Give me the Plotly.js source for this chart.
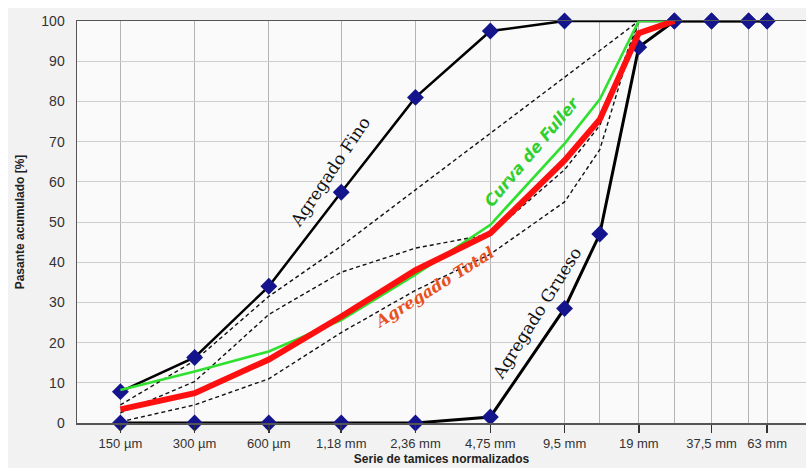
<!DOCTYPE html>
<html>
<head>
<meta charset="utf-8">
<script src="https://cdn.plot.ly/plotly-3.0.1.min.js"></script>
<style>
  html, body { margin:0; padding:0; background:#ffffff; width:806px; height:468px; overflow:hidden; }
  #panel { position:absolute; left:8px; top:8px; width:798px; height:460px; background:#f2f2f2; }
  #chart { position:absolute; left:0; top:0; width:806px; height:468px; }
</style>
</head>
<body>
<div id="panel"></div>
<div id="chart"></div>
<script>
// Sieve sizes (mm)
const tickSizes = [0.15, 0.3, 0.6, 1.18, 2.36, 4.75, 9.5, 19, 37.5, 63];
const tickLabels = ['150 µm', '300 µm', '600 µm', '1,18 mm', '2,36 mm', '4,75 mm', '9,5 mm', '19 mm', '37,5 mm', '63 mm'];
const minorSizes = [13.2, 26.5, 53];

// Agregado Fino
const finoX = [0.15, 0.3, 0.6, 1.18, 2.36, 4.75, 9.5, 26.5, 37.5, 53, 63];
const finoY = [7.8, 16.3, 34, 57.4, 81, 97.5, 100, 100, 100, 100, 100];

// Agregado Grueso
const gruesoX = [0.15, 0.3, 0.6, 1.18, 2.36, 4.75, 9.5, 13.2, 19, 26.5, 37.5, 53, 63];
const gruesoY = [0, 0, 0, 0, 0, 1.5, 28.5, 47, 93.5, 100, 100, 100, 100];

// Curva de Fuller
const fullerX = [0.15, 0.3, 0.6, 1.18, 2.36, 4.75, 9.5, 13.2, 19, 26.5];
const fullerY = [8.2, 12.8, 17.8, 25.6, 36.9, 49.3, 69.5, 80.5, 100, 100];

// Agregado Total
const totalX = [0.15, 0.3, 0.6, 1.18, 2.36, 4.75, 9.5, 13.2, 19, 26.5];
const totalY = [3.4, 7.4, 15.8, 26.5, 38, 47.2, 65.3, 75.5, 97, 100];

// Dashed limit curves
const limAX = [0.15, 0.3, 0.6, 1.18, 2.36, 4.75, 9.5, 19];
const limAY = [4.5, 15.5, 31.5, 44, 58, 72, 86, 100];
const limBX = [0.15, 0.3, 0.6, 1.18, 2.36, 4.75, 9.5, 13.2, 19];
const limBY = [2.5, 10.3, 27, 37.5, 43.5, 47, 63, 74, 100];
const limCX = [0.15, 0.3, 0.6, 1.18, 2.36, 4.75, 9.5, 13.2, 19];
const limCY = [0.3, 4.5, 11, 22.5, 33, 42, 55, 68, 100];

const L = 77, R = 806, T = 21, B = 423;
const px = x => (x - L) / (R - L);
const py = y => (B - y) / (B - T);

const dashLine = {color: '#111', width: 1.4, dash: '4px,3px'};
const traces = [
  {x: limAX, y: limAY, mode: 'lines', line: dashLine, cliponaxis: false, hoverinfo: 'skip'},
  {x: limBX, y: limBY, mode: 'lines', line: dashLine, cliponaxis: false, hoverinfo: 'skip'},
  {x: limCX, y: limCY, mode: 'lines', line: dashLine, cliponaxis: false, hoverinfo: 'skip'},
  {x: finoX, y: finoY, mode: 'lines+markers', line: {color: '#000', width: 2.5},
   marker: {symbol: 'diamond', size: 13, color: '#14148c'}, cliponaxis: false},
  {x: gruesoX, y: gruesoY, mode: 'lines+markers', line: {color: '#000', width: 3},
   marker: {symbol: 'diamond', size: 13, color: '#14148c'}, cliponaxis: false},
  {x: fullerX, y: fullerY, mode: 'lines', line: {color: '#2fe02f', width: 2.6}, cliponaxis: false},
  {x: totalX, y: totalY, mode: 'lines', line: {color: '#ff1010', width: 6}, cliponaxis: false}
];

const serif = 'DejaVu Serif, Liberation Serif, serif';
function label(text, cx, cy, angle, font) {
  return {text: text, xref: 'paper', yref: 'paper', x: px(cx), y: py(cy),
          xanchor: 'center', yanchor: 'middle', showarrow: false, textangle: angle, font: font};
}
const layout = {
  width: 806, height: 468,
  margin: {l: L, r: 0, t: T, b: 468 - B},
  paper_bgcolor: 'rgba(0,0,0,0)',
  plot_bgcolor: '#fafafa',
  showlegend: false,
  xaxis: {
    type: 'log',
    range: [-1, Math.log10(90.6)],
    tickmode: 'array', tickvals: tickSizes, ticktext: tickLabels,
    ticks: 'outside', ticklen: 8, tickcolor: '#333', tickwidth: 1.5,
    tickfont: {family: 'Liberation Sans, Arial, sans-serif', size: 13, color: '#333'},
    showgrid: true, gridcolor: '#b4b4b4', gridwidth: 1,
    minor: {tickmode: 'array', tickvals: minorSizes, showgrid: true, gridcolor: '#b4b4b4', gridwidth: 1, ticks: ''},
    showline: true, linecolor: '#555', linewidth: 1.5, mirror: true,
    zeroline: false,
    title: {text: 'Serie de tamices normalizados', font: {family: 'Liberation Sans, Arial, sans-serif', size: 12, color: '#222', weight: 'bold'}, standoff: 4}
  },
  yaxis: {
    range: [0, 100],
    tickmode: 'array', tickvals: [0, 10, 20, 30, 40, 50, 60, 70, 80, 90, 100],
    ticks: '', ticklabelstandoff: 8,
    tickfont: {family: 'Liberation Sans, Arial, sans-serif', size: 14, color: '#333'},
    showgrid: true, gridcolor: '#cdcdcd', gridwidth: 1,
    showline: true, linecolor: '#555', linewidth: 1.5,
    zeroline: false,
    title: {text: 'Pasante acumulado [%]', font: {family: 'Liberation Sans, Arial, sans-serif', size: 12, color: '#222', weight: 'bold'}, standoff: 14}
  },
  annotations: [
    label('Agregado Fino', 330, 172, -56, {family: serif, size: 17, color: '#111'}),
    label('Agregado Grueso', 537, 313, -58, {family: serif, size: 17, color: '#111'}),
    label('<i>Agregado Total</i>', 434, 287, -32, {family: serif, size: 16, color: '#e8501e', weight: 'bold'}),
    label('<i>Curva de Fuller</i>', 531, 152, -50, {family: 'DejaVu Sans, sans-serif', size: 16, color: '#2fd02f', weight: 'bold'})
  ]
};

Plotly.newPlot('chart', traces, layout, {displayModeBar: false, staticPlot: true});
</script>
</body>
</html>
